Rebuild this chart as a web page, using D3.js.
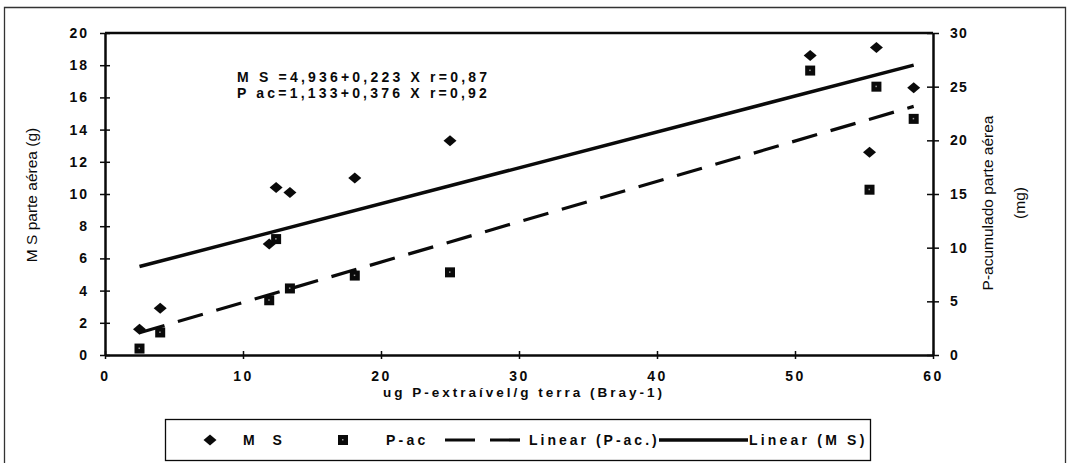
<!DOCTYPE html>
<html><head><meta charset="utf-8">
<script src="https://cdn.jsdelivr.net/npm/d3@7"></script>
<style>
body{margin:0;background:#fff;}
svg{display:block;font-family:"Liberation Sans",Arial,sans-serif;}
</style></head>
<body><svg id="c" width="1068" height="463"></svg>
<script>
// ---- data ----
const xVals = [2.5, 4.0, 11.9, 12.4, 13.4, 18.1, 25.0, 51.1, 55.4, 55.9, 58.6];
const msVals = [1.6, 2.9, 6.9, 10.4, 10.1, 11.0, 13.3, 18.6, 12.6, 19.1, 16.6];
const pacVals = [0.6, 2.1, 5.1, 10.8, 6.2, 7.4, 7.7, 26.5, 15.4, 25.0, 22.0];
const msFit = [4.936, 0.223];   // intercept, slope
const pacFit = [1.133, 0.376];
const xTicks = [0, 10, 20, 30, 40, 50, 60];
const yLeftTicks = [0, 2, 4, 6, 8, 10, 12, 14, 16, 18, 20];
const yRightTicks = [0, 5, 10, 15, 20, 25, 30];
const equations = ["M S =4,936+0,223 X r=0,87", "P ac=1,133+0,376 X r=0,92"];
const xTitle = "ug P-extraível/g terra (Bray-1)";
const yLeftTitle = "M S  parte aérea (g)";
const yRightTitle = ["P-acumulado parte aérea", "(mg)"];
const legendLabels = ["M S", "P-ac", "Linear (P-ac.)", "Linear (M S)"];

// ---- layout ----
const svg = d3.select("#c");
const L = 105, R = 933, T = 33, B = 355;
const x = d3.scaleLinear().domain([0, 60]).range([L, R]);
const yL = d3.scaleLinear().domain([0, 20]).range([B, T]);
const yR = d3.scaleLinear().domain([0, 30]).range([B, T]);
const ink = "#0a0a0a";

// outer frame (left, top, right)
svg.append("path").attr("d", "M4.5,463 V7.5 H1065.5 V463")
  .attr("fill", "none").attr("stroke", "#333").attr("stroke-width", 1.3);

// plot frame top
svg.append("line").attr("x1", L).attr("x2", R).attr("y1", T).attr("y2", T)
  .attr("stroke", ink).attr("stroke-width", 2.5);

function styleAxis(g, ls, cross, horiz) {
  g.select(".domain").attr("stroke", ink).attr("stroke-width", 2.5);
  g.selectAll(".tick line").attr("stroke", ink).attr("stroke-width", 1.5);
  if (horiz) g.selectAll(".tick line").attr("y1", -cross).attr("y2", cross);
  else g.selectAll(".tick line").attr("x1", -cross).attr("x2", cross);
  g.selectAll(".tick text").attr("fill", ink).attr("font-size", 14)
    .attr("font-weight", "bold").style("letter-spacing", ls + "px");
}

const gx = svg.append("g").attr("transform", `translate(0,${B})`)
  .call(d3.axisBottom(x).tickValues(xTicks).tickSize(0).tickPadding(0).tickSizeOuter(0));
styleAxis(gx, 2.5, 4, true);
gx.selectAll(".tick text").attr("dy", null).attr("y", 26);

const gl = svg.append("g").attr("transform", `translate(${L},0)`)
  .call(d3.axisLeft(yL).tickValues(yLeftTicks).tickSize(0).tickSizeOuter(0));
styleAxis(gl, 2, 5, false);
gl.selectAll(".tick text").attr("x", -16);

const gr = svg.append("g").attr("transform", `translate(${R},0)`)
  .call(d3.axisRight(yR).tickValues(yRightTicks).tickSize(0).tickSizeOuter(0));
styleAxis(gr, 1.2, 6, false);
gr.selectAll(".tick text").attr("x", 17);

// titles
svg.append("text").attr("x", 524).attr("y", 397).attr("text-anchor", "middle")
  .attr("font-size", 13.5).attr("font-weight", "bold").style("letter-spacing", "3px")
  .attr("fill", ink).text(xTitle);
svg.append("text").attr("transform", "translate(37,195) rotate(-90)").attr("text-anchor", "middle")
  .attr("font-size", 15.5).attr("fill", ink).text(yLeftTitle);
yRightTitle.forEach((t, i) => {
  svg.append("text").attr("transform", `translate(${993 + i * 32},203) rotate(-90)`)
    .attr("text-anchor", "middle").attr("font-size", 15.5).attr("fill", ink).text(t);
});

// equations
equations.forEach((t, i) => {
  svg.append("text").attr("x", 237).attr("y", 82 + i * 16)
    .attr("font-size", 14).attr("font-weight", "bold").style("letter-spacing", "3.2px")
    .attr("fill", ink).text(t);
});

// regression lines
const xExt = d3.extent(xVals);
const line = d3.line().x(d => d[0]).y(d => d[1]);
svg.append("path")
  .attr("d", line(xExt.map(v => [x(v), yL(msFit[0] + msFit[1] * v)])))
  .attr("stroke", ink).attr("stroke-width", 3.5).attr("fill", "none");
svg.append("path")
  .attr("d", line(xExt.map(v => [x(v), yR(pacFit[0] + pacFit[1] * v)])))
  .attr("stroke", ink).attr("stroke-width", 3.2).attr("fill", "none")
  .attr("stroke-dasharray", "26,14");

// markers
const diamond = (cx, cy) => `M${cx - 6.5},${cy} L${cx},${cy - 5.5} L${cx + 6.5},${cy} L${cx},${cy + 5.5} Z`;
function square(g, cx, cy) {
  g.append("rect").attr("x", cx - 5).attr("y", cy - 5).attr("width", 10).attr("height", 10).attr("fill", ink);
  g.append("rect").attr("x", cx - 1).attr("y", cy - 1).attr("width", 1.5).attr("height", 1.5).attr("fill", "#999");
}
const gm = svg.append("g");
xVals.forEach((v, i) => {
  gm.append("path").attr("d", diamond(x(v), yL(msVals[i]))).attr("fill", ink);
});
xVals.forEach((v, i) => square(gm, x(v), yR(pacVals[i])));

// legend
const lg = svg.append("g");
lg.append("rect").attr("x", 165.5).attr("y", 419.5).attr("width", 705).attr("height", 41)
  .attr("fill", "#fff").attr("stroke", ink).attr("stroke-width", 1.3);
const ly = 440;
lg.append("path").attr("d", diamond(210, ly)).attr("fill", ink);
square(lg, 343, ly);
lg.append("line").attr("x1", 445).attr("x2", 520).attr("y1", ly).attr("y2", ly)
  .attr("stroke", ink).attr("stroke-width", 3.2).attr("stroke-dasharray", "30,15");
lg.append("line").attr("x1", 659).attr("x2", 748).attr("y1", ly).attr("y2", ly)
  .attr("stroke", ink).attr("stroke-width", 3.5);
const lx = [243, 386, 529, 749];
const lsp = [7, 3.2, 3, 3.2];
legendLabels.forEach((t, i) => {
  lg.append("text").attr("x", lx[i]).attr("y", 445).attr("font-size", 14)
    .attr("font-weight", "bold").style("letter-spacing", lsp[i] + "px").attr("fill", ink).text(t);
});
</script></body></html>
